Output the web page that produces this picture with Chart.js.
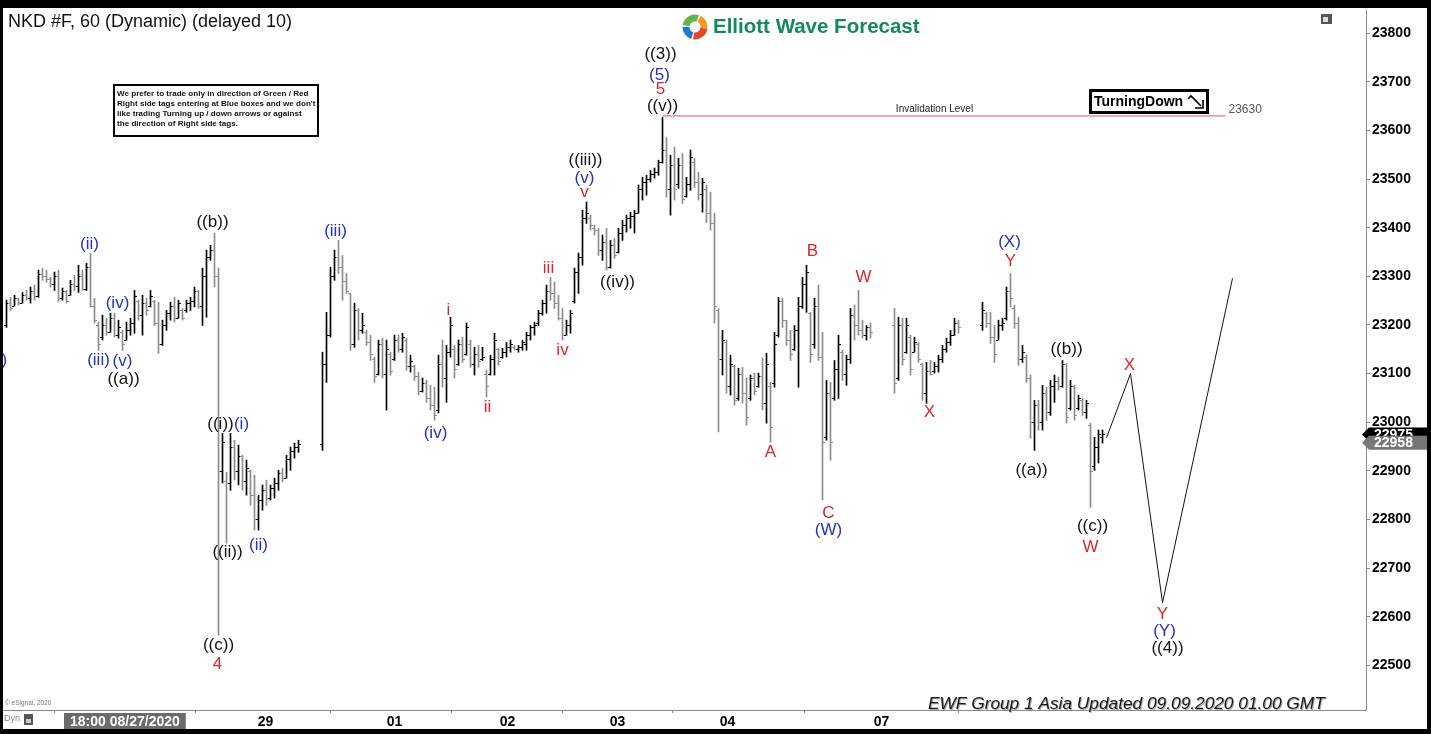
<!DOCTYPE html>
<html><head><meta charset="utf-8">
<script src="https://cdn.jsdelivr.net/npm/chart.js@4.4.1/dist/chart.umd.min.js"></script>
<style>
html,body{margin:0;padding:0;background:#000;width:1431px;height:734px;overflow:hidden}
#wrap{position:absolute;left:3px;top:8px;width:1424px;height:721px;background:#fff}
canvas{display:block}
</style></head><body>
<div id="wrap"><canvas id="c" width="1424" height="721"></canvas></div>
<script>
// ---- DATA (hourly OHLC, bar slot index; null = no trading) ----
const highs=[
23251,23257,23261,23255,23267,23271,23278,23282,23313,23317,
23313,23298,23309,23313,23276,23271,23292,23302,23323,23313,
23327,23348,23255,23206,23220,23214,23224,23224,23210,23189,
23206,23214,23271,23251,23261,23255,23271,23251,23247,23210,
23230,23247,23257,23251,23234,23251,23257,23278,23271,23317,
23354,23364,23389,23317,22977,22897,22977,22963,22953,22932,
22922,22901,22891,22850,22871,22881,22871,22885,22901,22905,
22932,22949,22957,22963,null,null,null,null,null,23144,
23226,23319,23354,23374,23343,23306,23265,23245,23234,23224,
23189,23179,23134,23169,23173,23169,23144,23179,23179,23183,
23173,23138,23117,23103,23091,23086,23076,23072,23138,23169,
23158,23216,23158,23169,23175,23204,23169,23154,23158,23154,
23107,23138,23183,23152,23152,23164,23169,23158,23158,23169,
23185,23199,23206,23230,23251,23282,23298,23288,23261,23234,
23210,23230,23317,23348,23436,23453,23426,23405,23399,23385,
23399,23374,23378,23399,23415,23426,23432,23436,23488,23504,
23508,23518,23523,23539,23627,23586,23549,23566,23543,23553,
23504,23560,23543,23514,23502,23488,23473,23430,23234,23189,
23169,23138,23117,23111,23113,23091,23097,23101,23101,23132,
23142,23082,23185,23257,23255,23210,23189,23199,23257,23298,
23323,23226,23255,23282,23185,23086,23082,23127,23179,23148,
23138,23234,23241,23271,23210,23199,23204,null,null,null,
null,null,23234,23216,23214,23214,23179,23175,23164,23121,
23123,23127,23123,23138,23158,23173,23189,23214,23210,null,
null,null,null,null,23247,23226,23226,23199,23210,23214,
23278,23306,23241,23216,23158,23138,23097,23045,23045,23076,
23072,23086,23097,23093,23127,23121,23086,23076,23056,23049,
23045,22998,22969,22984,22984];
const lows=[
23195,23230,23239,23241,23245,23251,23245,23251,23257,23292,
23288,23278,23271,23247,23251,23245,23261,23271,23267,23271,
23271,23237,23204,23148,23169,23179,23185,23175,23173,23148,
23169,23179,23183,23210,23179,23220,23237,23199,23142,23158,
23189,23210,23206,23214,23210,23226,23230,23237,23234,23199,
23216,23333,23278,22562,22875,22751,22860,22881,22871,22860,
22850,22829,22778,22778,22819,22829,22840,22844,22860,22877,
22885,22901,22926,22938,null,null,null,null,null,22942,
23082,23175,23292,23306,23251,23265,23148,23154,23169,23183,
23158,23127,23082,23097,23091,23025,23097,23127,23144,23144,
23107,23103,23086,23056,23062,23041,23025,23004,23019,23072,
23041,23134,23091,23117,23123,23138,23113,23097,23113,23127,
23052,23097,23097,23117,23132,23134,23144,23148,23144,23148,
23148,23169,23179,23199,23220,23224,23251,23234,23210,23169,
23179,23183,23245,23265,23323,23409,23395,23385,23343,23333,
23313,23317,23337,23348,23374,23391,23399,23389,23430,23457,
23467,23494,23502,23508,23533,23463,23426,23457,23481,23450,
23463,23477,23483,23457,23432,23411,23395,23204,22980,23097,
23060,23056,23035,23045,23039,22994,23045,23056,23072,23025,
22998,22959,23072,23175,23195,23158,23127,23148,23072,23234,
23226,23123,23152,23127,22840,22963,22922,23045,23049,23086,
23076,23121,23169,23179,23173,23169,23173,null,null,null,
null,null,23060,23086,23117,23142,23097,23144,23123,23045,
23039,23097,23101,23103,23123,23144,23158,23179,23183,null,
null,null,null,null,23189,23195,23162,23123,23169,23189,
23210,23237,23193,23117,23123,23082,22967,22942,22984,22984,
23004,23014,23041,23066,23072,22998,23025,23004,23025,23014,
23008,22825,22901,22916,22957];
const opens=[
23200,23245,23240,23255,23245,23262,23255,23270,23260,23305,
23300,23295,23285,23300,23255,23270,23262,23285,23280,23300,
23275,23320,23240,23200,23175,23200,23185,23215,23180,23185,
23170,23190,23205,23250,23220,23245,23240,23250,23205,23160,
23200,23225,23240,23215,23230,23230,23245,23250,23270,23240,
23300,23340,23355,23300,22900,22880,22875,22950,22900,22930,
22880,22900,22850,22800,22840,22860,22845,22865,22875,22895,
22885,22925,22940,22950,null,null,null,null,null,22955,
23120,23180,23300,23340,23320,23290,23265,23160,23230,23190,
23185,23165,23130,23100,23160,23100,23140,23130,23170,23150,
23170,23115,23115,23095,23065,23080,23050,23035,23025,23120,
23090,23145,23150,23120,23160,23140,23160,23120,23140,23130,
23100,23100,23130,23150,23135,23145,23155,23155,23150,23155,
23160,23180,23195,23205,23225,23245,23270,23265,23245,23215,
23180,23200,23250,23310,23340,23420,23420,23400,23395,23355,
23370,23320,23365,23350,23390,23405,23420,23425,23430,23480,
23495,23500,23510,23515,23535,23560,23480,23530,23490,23530,
23465,23490,23535,23495,23470,23480,23430,23410,23230,23130,
23165,23075,23115,23050,23100,23060,23050,23090,23075,23095,
23040,23075,23080,23180,23250,23210,23170,23150,23190,23240,
23285,23225,23160,23240,23135,22970,23060,23050,23110,23145,
23100,23130,23220,23200,23190,23180,23195,null,null,null,
null,null,23200,23090,23200,23145,23175,23145,23160,23120,
23060,23105,23105,23115,23130,23150,23165,23180,23205,null,
null,null,null,null,23200,23225,23205,23175,23170,23200,
23215,23270,23235,23205,23130,23135,23090,23000,23035,23000,
23060,23020,23075,23085,23075,23120,23030,23075,23030,23045,
23020,22995,22910,22950,22970];
const closes=[
23245,23235,23255,23245,23262,23255,23270,23260,23305,23300,
23295,23285,23300,23255,23270,23250,23285,23280,23300,23275,
23320,23240,23210,23160,23200,23185,23215,23180,23195,23160,
23190,23205,23260,23220,23245,23230,23260,23205,23160,23200,
23225,23240,23215,23245,23215,23245,23250,23270,23240,23300,
23340,23355,23300,22900,22960,22875,22950,22900,22930,22880,
22905,22850,22800,22840,22860,22845,22865,22875,22895,22885,
22925,22940,22950,22955,null,null,null,null,null,23120,
23180,23300,23340,23320,23290,23270,23160,23230,23190,23200,
23165,23140,23095,23160,23100,23150,23105,23170,23150,23175,
23115,23125,23095,23065,23080,23050,23035,23015,23120,23090,
23145,23200,23110,23160,23130,23195,23120,23140,23125,23135,
23075,23130,23170,23125,23145,23155,23160,23150,23155,23165,
23180,23195,23200,23225,23245,23270,23265,23245,23215,23180,
23200,23225,23310,23340,23420,23430,23405,23395,23355,23370,
23320,23365,23345,23390,23405,23420,23425,23430,23480,23495,
23500,23510,23515,23535,23560,23480,23530,23480,23530,23460,
23490,23545,23495,23470,23495,23430,23410,23240,23130,23170,
23075,23120,23045,23100,23060,23010,23090,23065,23095,23040,
23120,22990,23160,23250,23210,23170,23140,23190,23240,23285,
23310,23140,23240,23135,22960,23060,22960,23110,23160,23100,
23130,23220,23200,23190,23180,23195,23185,null,null,null,
null,null,23080,23200,23130,23200,23110,23165,23130,23060,
23105,23100,23115,23130,23150,23165,23180,23205,23195,null,
null,null,null,null,23230,23205,23175,23140,23200,23205,
23270,23255,23205,23130,23145,23090,23000,23035,23000,23060,
23020,23075,23085,23075,23120,23010,23075,23015,23050,23020,
23040,22900,22950,22975,22975];

const dayLabels=['18:00 08/27/2020','29','01','02','03','04','07'];
const dayIdx=[29.6,64.75,97,125.25,152.75,180.25,218.75];
const yTicks=[22500,22600,22700,22800,22900,23000,23100,23200,23300,23400,23500,23600,23700,23800];

const projIdx=[275,281,289,306.5];
const projPrice=[22968,23100,22629,23296];
const invIdx=[164,304.75];
const invPrice=23630;
const lastPrices=[22975,22958];

const waveText=['(i)','(ii)','(iii)','(iv)','(v)','((a))','((b))','((i))','(i)','((ii))','(ii)','((c))','4',
'(iii)','(iv)','i','ii','iii','iv','((iii))','(v)','v','((iv))','((3))','(5)','5','((v))',
'B','A','C','(W)','W','X','(X)','Y','((b))','((a))','((c))','W','X','Y','(Y)','((4))'];
const waveColor=['b','b','b','b','b','k','k','k','b','k','b','k','r',
'b','b','r','r','r','r','k','b','r','k','k','b','r','k',
'r','r','r','b','r','r','b','r','k','k','k','r','r','r','b','k'];
const waveIdx=[-1.75,20.75,23,27.75,29,29.25,51.5,53.5,58.75,55.25,63,53,52.75,
82.25,107.25,110.5,120.25,135.5,139,144.75,144.5,144.5,152.75,163.5,163.25,163.5,164,
201.5,191,205.5,205.5,214.25,230.75,250.75,251,265,256.25,271.5,271,280.75,289,289.5,290.25];
const wavePrice=[23128,23366,23128,23245,23126,23089,23412,22996,22996,22733,22747,22542,22503,
23393,22978,23231,23031,23317,23148,23539,23502,23473,23288,23757,23714,23685,23650,
23352,22939,22813,22778,23299,23021,23371,23331,23151,22902,22786,22743,23118,22605,22570,22535];

// ---- build datasets ----
const barData=[],barColors=[];
highs.forEach((h,i)=>{ if(h==null) return;
  barData.push({x:i,y:[lows[i],h]});
  barColors.push(closes[i]>=opens[i]?'#000':'#8c8c8c');
});
const COLORS={k:'#111',b:'#2530c0',r:'#d8262a'};
const AR='Arial, "Liberation Sans", sans-serif';

const ohlcTicks={id:'ohlcTicks',afterDatasetsDraw(chart){
  const {ctx,scales:{x,y},chartArea:a}=chart;
  ctx.save();ctx.beginPath();ctx.rect(a.left,a.top,a.right-a.left,a.bottom-a.top);ctx.clip();
  highs.forEach((h,i)=>{ if(h==null) return;
    const px=x.getPixelForValue(i);
    ctx.fillStyle=closes[i]>=opens[i]?'#000':'#8c8c8c';
    ctx.fillRect(px-2.5,Math.round(y.getPixelForValue(opens[i])),2,1);
    ctx.fillRect(px+0.5,Math.round(y.getPixelForValue(closes[i])),2,1);
  });
  ctx.restore();
}};

const waveLabels={id:'waveLabels',afterDatasetsDraw(chart){
  const {ctx,scales:{x,y},chartArea:a}=chart;
  ctx.save();ctx.beginPath();ctx.rect(a.left,a.top,a.right-a.left,a.bottom-a.top);ctx.clip();
  ctx.font='17px '+AR;ctx.textAlign='center';ctx.textBaseline='middle';
  waveText.forEach((t,k)=>{
    ctx.fillStyle=COLORS[waveColor[k]];
    ctx.fillText(t,x.getPixelForValue(waveIdx[k]),y.getPixelForValue(wavePrice[k]));
  });
  const iy=y.getPixelForValue(invPrice);
  ctx.fillStyle='#222';ctx.font='10px '+AR;
  ctx.fillText('Invalidation Level',x.getPixelForValue(232),iy-7);
  ctx.fillStyle='#555';ctx.font='12px '+AR;ctx.textAlign='left';
  ctx.fillText(String(invPrice),x.getPixelForValue(305.5),iy-6);
  ctx.restore();
}};

function drawLogo(ctx,cx,cy){
  const segs=[['#62b34a',Math.PI*1.05,Math.PI*1.6],['#f29a1f',Math.PI*1.65,Math.PI*2.05],
              ['#e4472a',Math.PI*0.05,Math.PI*0.55],['#2378c9',Math.PI*0.6,Math.PI*1.0]];
  ctx.lineWidth=7;ctx.lineCap='butt';
  segs.forEach(s=>{ctx.strokeStyle=s[0];ctx.beginPath();ctx.arc(cx,cy,9,s[1],s[2]);ctx.stroke();});
}

const overlay={id:'overlay',afterDraw(chart){
  const {ctx,scales:{y}}=chart;
  ctx.save();
  ctx.fillStyle='#111';ctx.font='18px '+AR;ctx.textAlign='left';ctx.textBaseline='middle';
  ctx.fillText('NKD #F, 60 (Dynamic) (delayed 10)',5,14);
  drawLogo(ctx,692,19);
  ctx.fillStyle='#17875c';ctx.font='bold 20.5px '+AR;ctx.textBaseline='middle';
  ctx.fillText('Elliott Wave Forecast',710,19);
  ctx.fillStyle='#555';ctx.fillRect(1318,6,11,10);
  ctx.fillStyle='#ddd';ctx.fillRect(1320,9,5,5);
  // notice box
  ctx.strokeStyle='#000';ctx.lineWidth=2;ctx.strokeRect(111,77,204,51);
  ctx.fillStyle='#111';ctx.font='bold 8.1px '+AR;ctx.textBaseline='middle';
  ['We prefer to trade only in direction of Green / Red',
   "Right side tags entering at Blue boxes and we don't",
   'like trading Turning up / down arrows or against',
   'the direction of Right side tags.'].forEach((t,k)=>ctx.fillText(t,114,86+k*9.8));
  // turning down box
  ctx.lineWidth=3;ctx.strokeRect(1087.5,82.5,117,22);
  ctx.font='bold 14px '+AR;ctx.fillStyle='#000';
  ctx.fillText('TurningDown',1091,94);
  ctx.lineWidth=1.6;ctx.beginPath();
  ctx.moveTo(1185,91);ctx.lineTo(1188,88);ctx.lineTo(1198,98);ctx.stroke();
  ctx.beginPath();ctx.moveTo(1200,92);ctx.lineTo(1200,100);ctx.lineTo(1192,100);ctx.stroke();
  // last price boxes
  const boxes=[[lastPrices[0],'#000'],[lastPrices[1],'#777']];
  boxes.forEach(b=>{
    const py=y.getPixelForValue(b[0]);
    ctx.fillStyle=b[1];ctx.beginPath();
    ctx.moveTo(1359,py);ctx.lineTo(1366,py-7);ctx.lineTo(1424,py-7);ctx.lineTo(1424,py+7);ctx.lineTo(1366,py+7);ctx.closePath();ctx.fill();
    ctx.fillStyle='#fff';ctx.font='bold 14px '+AR;ctx.textAlign='left';ctx.textBaseline='middle';
    ctx.fillText(String(b[0]),1371,py+1);
  });
  ctx.textAlign='left';ctx.textBaseline='middle';
  ctx.font='italic 17.3px '+AR;
  ctx.fillStyle='#aaa';ctx.fillText('EWF Group 1 Asia Updated 09.09.2020 01.00 GMT',926,697);
  ctx.fillStyle='#1a1a1a';ctx.fillText('EWF Group 1 Asia Updated 09.09.2020 01.00 GMT',925,696);
  ctx.fillStyle='#777';ctx.font='6.5px '+AR;ctx.fillText('\u00a9 eSignal, 2020',2,695);
  ctx.fillStyle='#888';ctx.font='9px '+AR;ctx.fillText('Dyn',1,711);
  ctx.fillStyle='#555';ctx.fillRect(21,706,9,11);ctx.fillStyle='#ccc';ctx.fillRect(23,711,5,4);
  ctx.restore();
}};

new Chart(document.getElementById('c'),{
  type:'bar',
  data:{datasets:[
    {type:'line',data:invIdx.map(v=>({x:v,y:invPrice})),borderColor:'#e05555',borderWidth:1,pointRadius:0,tension:0},
    {type:'line',data:projIdx.map((v,k)=>({x:v,y:projPrice[k]})),borderColor:'#111',borderWidth:1,pointRadius:0,tension:0},
    {type:'bar',data:barData,backgroundColor:barColors,barThickness:1,grouped:false,borderWidth:0}
  ]},
  options:{
    responsive:false,animation:false,devicePixelRatio:1,
    plugins:{legend:{display:false},tooltip:{enabled:false}},
    layout:{padding:{top:2,left:0,right:0,bottom:0}},
    scales:{
      x:{type:'linear',min:-0.875,max:339.875,offset:false,
        afterBuildTicks:s=>{s.ticks=dayIdx.map(v=>({value:v}));},
        afterFit:s=>{s.height=19;s.paddingLeft=0;s.paddingRight=0;},
        grid:{drawOnChartArea:false,drawTicks:true,tickLength:3,color:'#888'},
        border:{display:true,color:'#888'},
        ticks:{autoSkip:false,maxRotation:0,minRotation:0,padding:1,
          font:{family:AR,size:14,weight:'bold'},
          color:c=>c.index===0?'#fff':'#000',
          showLabelBackdrop:c=>c.index===0,backdropColor:'#6b6b6b',
          backdropPadding:{top:1,bottom:1,left:6,right:6},
          callback:(v,i)=>dayLabels[i]}
      },
      y:{type:'linear',position:'right',min:22408,max:23848,
        afterBuildTicks:s=>{s.ticks=yTicks.map(v=>({value:v}));},
        afterFit:s=>{s.width=61;s.paddingTop=0;s.paddingBottom=0;},
        grid:{drawOnChartArea:false,drawTicks:true,tickLength:4,color:'#888'},
        border:{display:true,color:'#888'},
        ticks:{padding:2,font:{family:AR,size:14,weight:'bold'},color:'#000',callback:v=>String(v)}
      }
    }
  },
  plugins:[ohlcTicks,waveLabels,overlay]
});
</script>
</body></html>
